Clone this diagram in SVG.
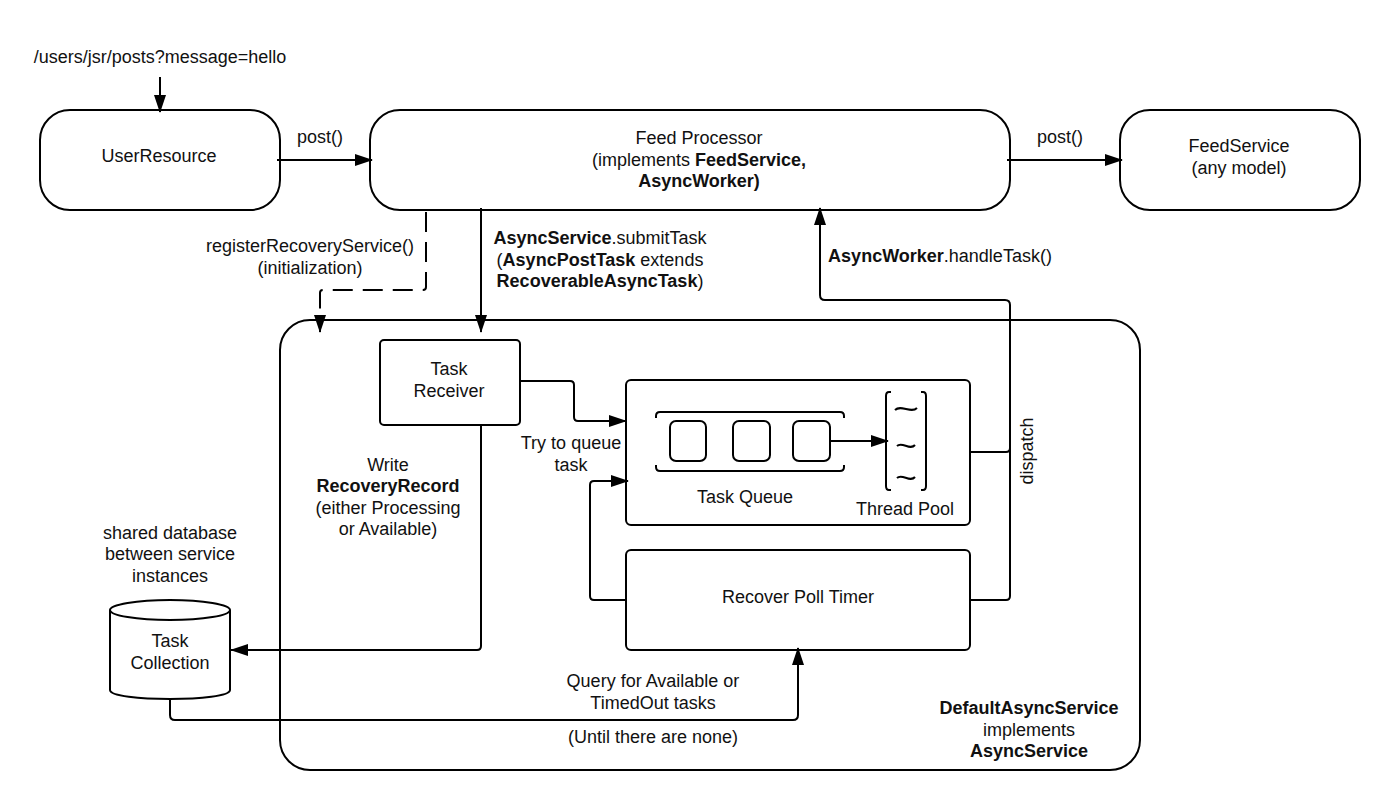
<svg xmlns="http://www.w3.org/2000/svg" width="1400" height="810" viewBox="0 0 1400 810">
<style>
text{font-family:"Liberation Sans",Arial,sans-serif;font-size:18px;fill:#111;text-anchor:middle}
.b{font-weight:bold}
.s{fill:#fff;stroke:#000;stroke-width:2}
.n{fill:none;stroke:#000;stroke-width:2}
.c{fill:none;stroke:#000;stroke-width:2;marker-end:url(#a)}
</style>
<defs><marker id="a" markerUnits="userSpaceOnUse" markerWidth="18" markerHeight="12" refX="17" refY="6" orient="auto"><path d="M0 0L18 6L0 12Z" fill="#000"/></marker></defs>
<rect width="1400" height="810" fill="#fff"/>
<g id="service"><rect class="s" x="280" y="320" width="860" height="450" rx="30"/>
<text class="b" x="1029" y="714">DefaultAsyncService</text><text x="1029" y="736">implements</text><text class="b" x="1029" y="757">AsyncService</text></g>
<g id="user-resource"><rect class="s" x="40" y="110" width="240" height="100" rx="30"/><text x="159" y="162">UserResource</text></g>
<g id="feed-processor"><rect class="s" x="370" y="110" width="640" height="100" rx="30"/><text x="699" y="144">Feed Processor</text><text x="699" y="166">(implements <tspan class="b">FeedService,</tspan></text><text class="b" x="699" y="187">AsyncWorker)</text></g>
<g id="feed-service"><rect class="s" x="1120" y="110" width="240" height="100" rx="30"/><text x="1239" y="152">FeedService</text><text x="1239" y="174">(any model)</text></g>
<g id="task-receiver"><rect class="s" x="380" y="340" width="140" height="85" rx="4"/><text x="449" y="375">Task</text><text x="449" y="397">Receiver</text></g>
<g id="worker"><rect class="s" x="626" y="380" width="344" height="145" rx="5"/>
<rect class="s" x="670" y="421" width="36" height="40" rx="6"/><rect class="s" x="733" y="421" width="37" height="40" rx="6"/><rect class="s" x="793" y="421" width="37" height="40" rx="6"/>
<path class="n" d="M656 418V416Q656 412 660 412H840Q844 412 844 416V418M656 465V467Q656 471 660 471H840Q844 471 844 467V465"/>
<path class="n" d="M891 392H889Q886 392 886 396V486Q886 490 889 490H891M921 392H923Q926 392 926 396V486Q926 490 923 490H921"/>
<path class="n" stroke-width="2.4" d="M895 410C901 404 911 414 917 408M897 446C902 441 910 451 915 445M897 478C902 473 910 483 915 477"/>
<path class="c" d="M830 441H888"/>
<text x="745" y="503">Task Queue</text><text x="905" y="515">Thread Pool</text></g>
<g id="recover-poll-timer"><rect class="s" x="626" y="550" width="344" height="100" rx="5"/><text x="798" y="603">Recover Poll Timer</text></g>
<g id="task-collection"><path class="s" d="M110 610V690C110 702 230 702 230 690V610"/><ellipse class="s" cx="170" cy="610" rx="60" ry="10"/><text x="170" y="647">Task</text><text x="170" y="669">Collection</text></g>
<g id="connectors">
<path class="c" d="M160 77V112"/>
<path class="c" d="M277 160H372"/>
<path class="c" d="M1007 160H1122"/>
<path class="c" d="M481 208V332"/>
<path class="n" stroke-dasharray="20 10" d="M426 212V287Q426 290 423 290H323Q320 290 320 293V314"/>
<path class="c" d="M320 316V332"/>
<path class="c" d="M520 381H570Q574 381 574 385V417Q574 421 578 421H626"/>
<path class="c" d="M626 600H594Q590 600 590 596V485Q590 481 594 481H628"/>
<path class="c" d="M481 425V646Q481 650 477 650H231"/>
<path class="c" d="M170 700V715Q170 720 175 720H793Q798 720 798 715V648"/>
<path class="c" d="M970 452H1006Q1010 452 1010 448V305Q1010 300 1005 300H825Q820 300 820 295V208"/>
<path class="n" d="M970 600H1006Q1010 600 1010 596V448"/>
</g>
<g id="labels">
<text x="160" y="63">/users/jsr/posts?message=hello</text>
<text x="320" y="143">post()</text><text x="1060" y="143">post()</text>
<text x="310" y="252">registerRecoveryService()</text><text x="310" y="274">(initialization)</text>
<text x="600" y="244"><tspan class="b">AsyncService</tspan>.submitTask</text>
<text x="600" y="266">(<tspan class="b">AsyncPostTask</tspan> extends</text>
<text x="600" y="287"><tspan class="b">RecoverableAsyncTask</tspan>)</text>
<text x="940" y="262"><tspan class="b">AsyncWorker</tspan>.handleTask()</text>
<text x="571" y="449">Try to queue</text><text x="571" y="471">task</text>
<text x="388" y="471">Write</text><text class="b" x="388" y="492">RecoveryRecord</text><text x="388" y="514">(either Processing</text><text x="388" y="535">or Available)</text>
<text x="170" y="539">shared database</text><text x="170" y="560">between service</text><text x="170" y="582">instances</text>
<text x="653" y="687">Query for Available or</text><text x="653" y="709">TimedOut tasks</text><text x="653" y="743">(Until there are none)</text>
<text transform="translate(1033 451) rotate(-90)">dispatch</text>
</g>
</svg>
